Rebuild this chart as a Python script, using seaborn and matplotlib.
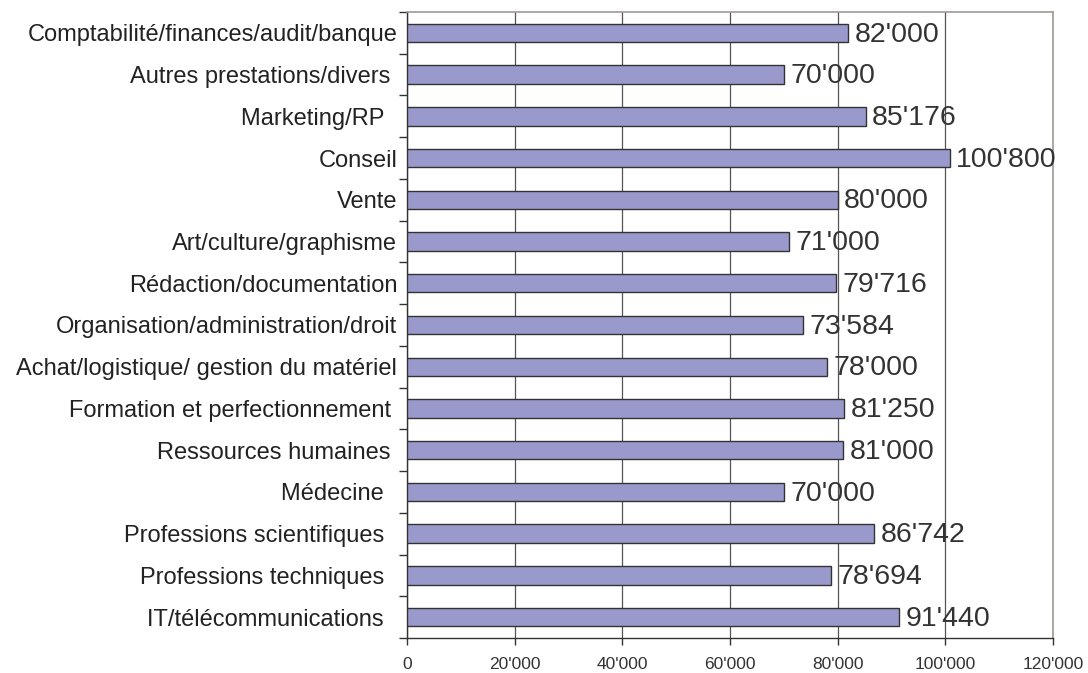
import numpy as np
import pandas as pd
import seaborn as sns
import matplotlib.pyplot as plt
from matplotlib.ticker import FuncFormatter, MultipleLocator

categories = ["Comptabilité/finances/audit/banque", "Autres prestations/divers ",
              "Marketing/RP  ", "Conseil", "Vente", "Art/culture/graphisme",
              "Rédaction/documentation", "Organisation/administration/droit",
              "Achat/logistique/ gestion du matériel", "Formation et perfectionnement ",
              "Ressources humaines ", "Médecine  ", "Professions scientifiques  ",
              "Professions techniques  ", "IT/télécommunications  "]
salaries = [82000, 70000, 85176, 100800, 80000, 71000, 79716, 73584,
            78000, 81250, 81000, 70000, 86742, 78694, 91440]
x_ticks = [0, 20000, 40000, 60000, 80000, 100000, 120000]

def swiss(v):
    return f"{int(v):,}".replace(",", "'")

df = pd.DataFrame({"cat": categories, "val": salaries})

sns.set_theme(style="white")
plt.rcParams['font.family'] = ['Liberation Sans', 'DejaVu Sans']

fig = plt.figure(figsize=(10.88, 6.73), dpi=100)
ax = fig.add_axes([407/1088, 1-638/673, (1053-407)/1088, (638-12)/673])

sns.barplot(data=df, x="val", y="cat", orient="h", color="#9999cc",
            saturation=1, edgecolor="#333333", linewidth=1, width=0.44, ax=ax, zorder=3)

for i, v in enumerate(salaries):
    ax.text(v + 1200, i + 0.04, swiss(v), va="center", ha="left",
            fontsize=20.5, color="#333333", zorder=4)

ax.set_xlim(0, 120000)
ax.set_ylim(len(categories) - 0.5, -0.5)
ax.set_xticks(x_ticks)
ax.xaxis.set_major_formatter(FuncFormatter(lambda v, p: swiss(v)))
ax.xaxis.grid(True, color="#555555", linewidth=0.9, zorder=0)
ax.yaxis.grid(False)
ax.yaxis.set_minor_locator(MultipleLocator(1, offset=0.5))
ax.tick_params(axis="y", which="major", length=0, labelsize=17, pad=7, colors="#222222")
ax.tick_params(axis="y", which="minor", left=True, length=6, width=1, color="#333333")
ax.tick_params(axis="x", which="major", bottom=True, length=5, width=1,
               color="#333333", labelsize=12.5, pad=9, labelcolor="#333333")
ax.set_xlabel("")
ax.set_ylabel("")

for s in ["left", "bottom"]:
    ax.spines[s].set_color("#333333")
    ax.spines[s].set_linewidth(1)
for s in ["top", "right"]:
    ax.spines[s].set_color("#a09a96")
    ax.spines[s].set_linewidth(1.2)

fig.savefig("out.png", dpi=100)
